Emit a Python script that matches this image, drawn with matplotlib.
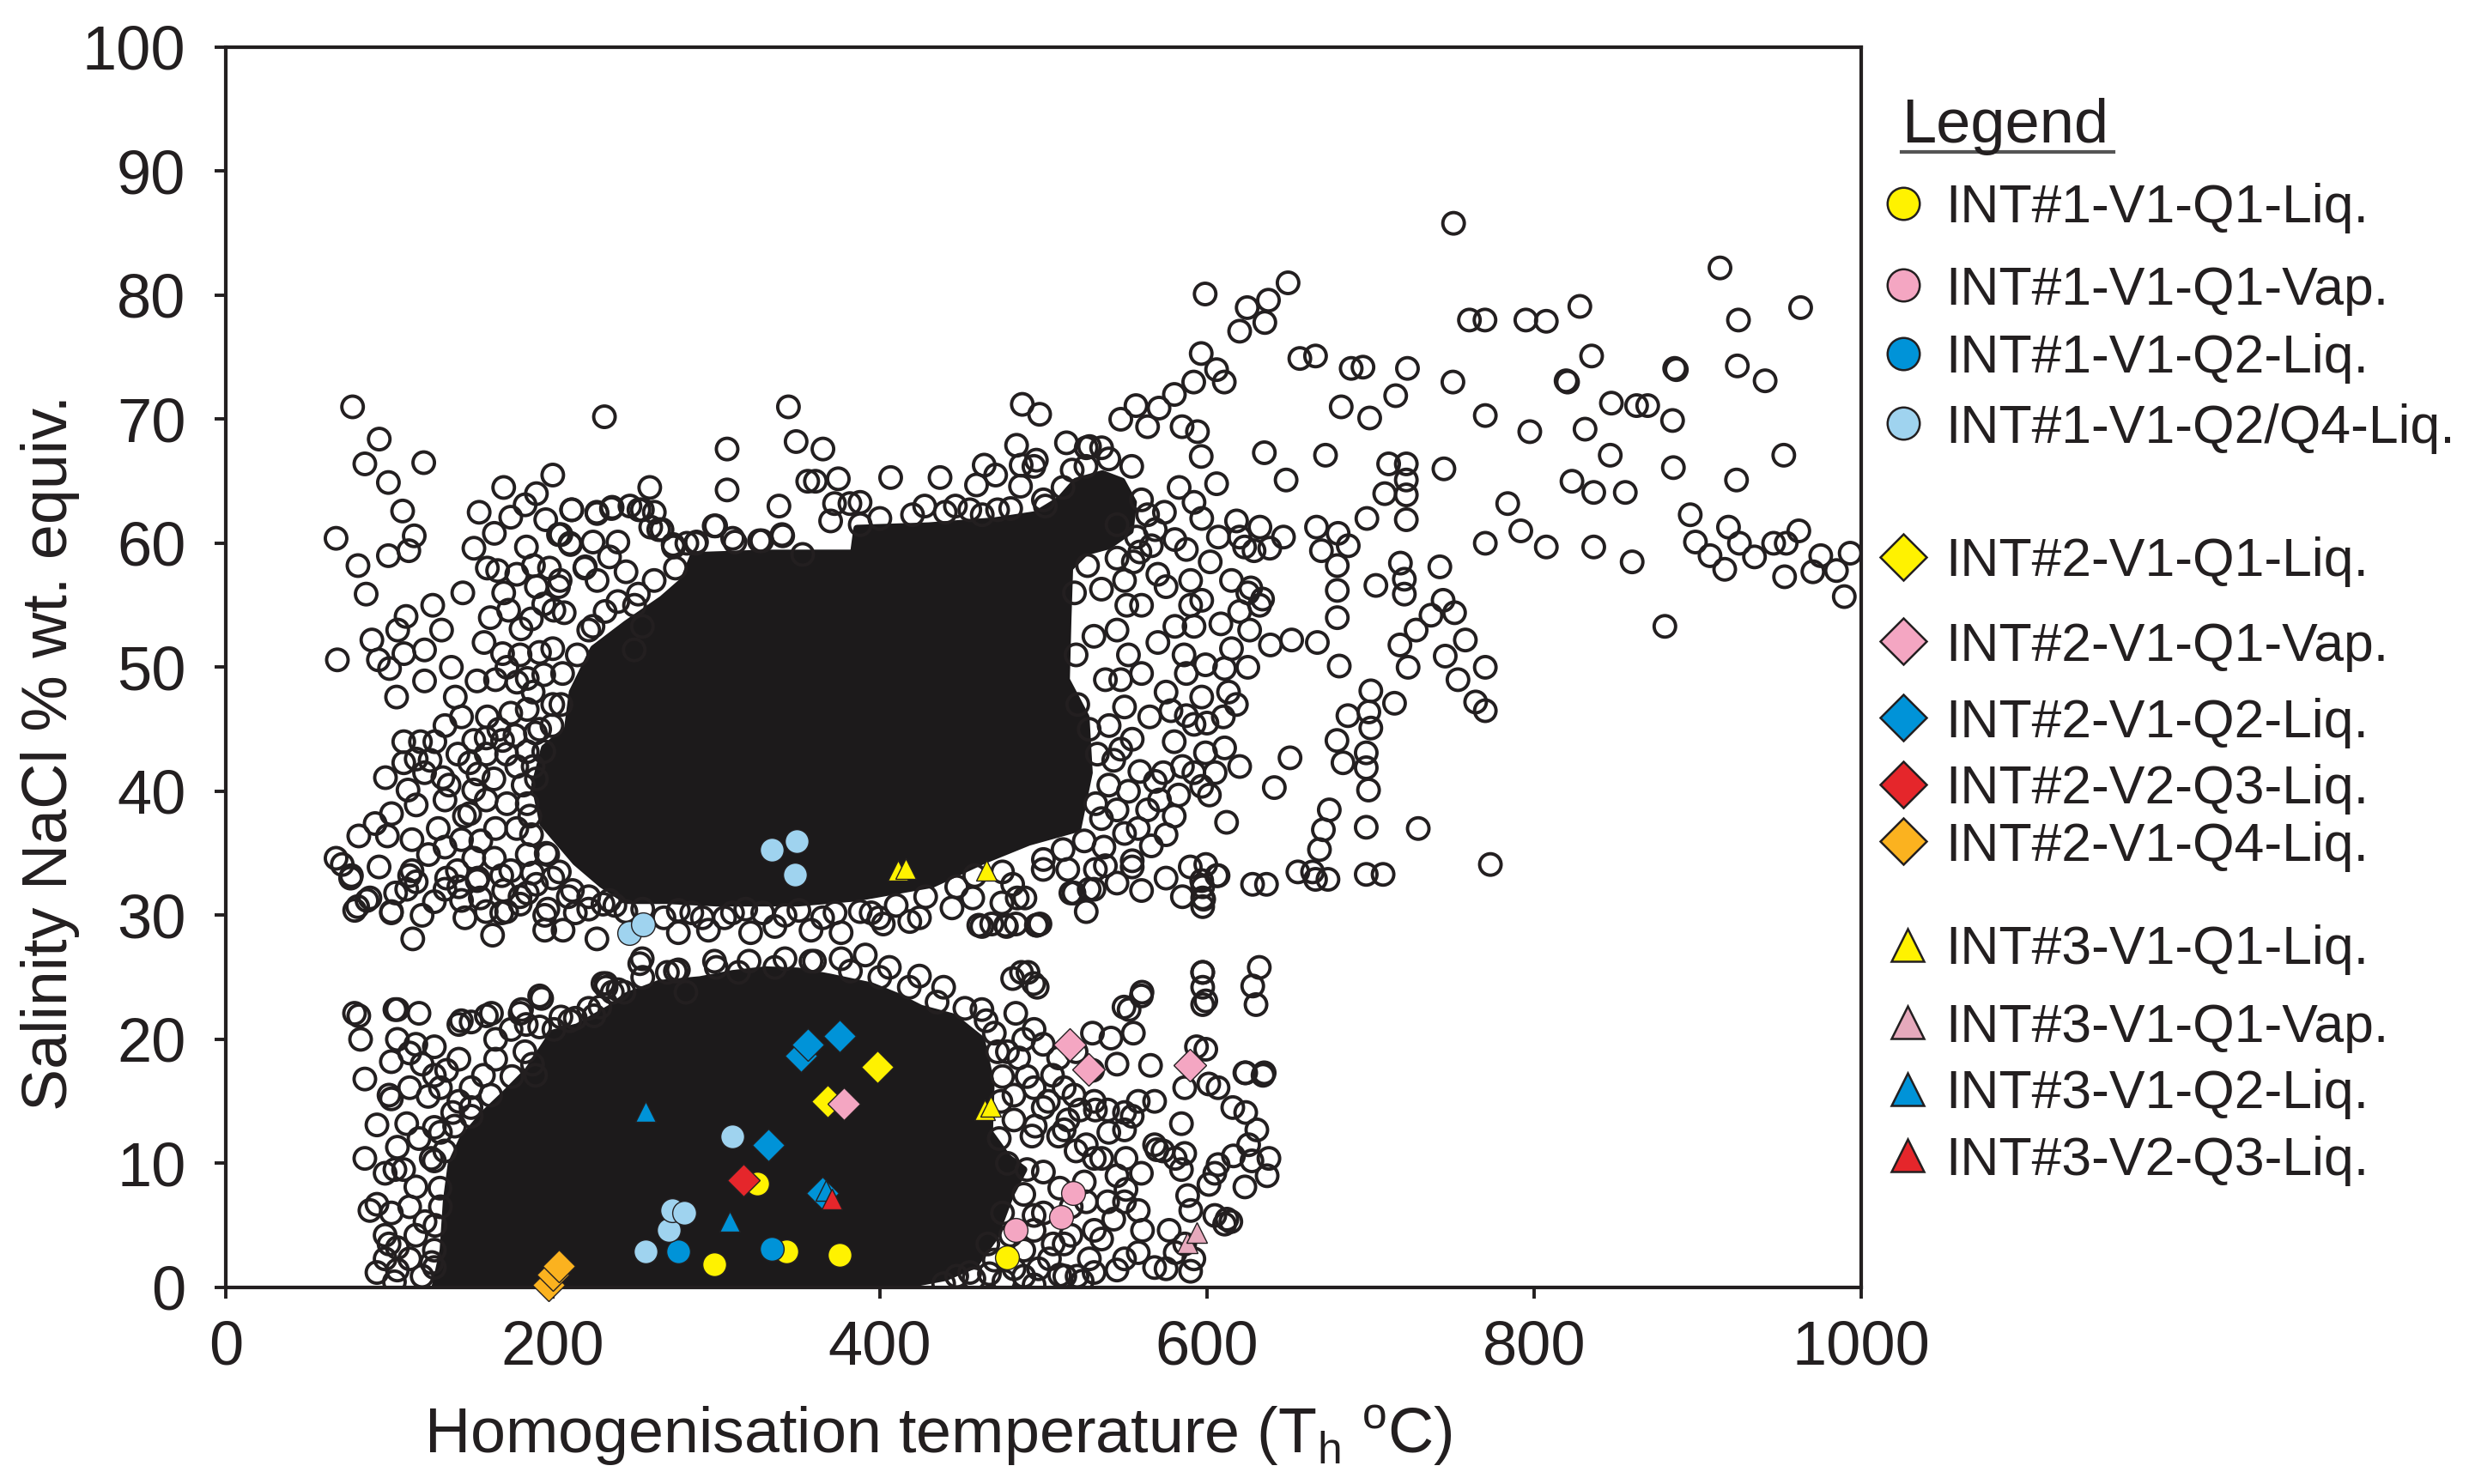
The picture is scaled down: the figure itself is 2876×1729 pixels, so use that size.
import numpy as np
import matplotlib.pyplot as plt
from matplotlib.lines import Line2D

plt.rcParams['font.family'] = ['Liberation Sans', 'DejaVu Sans']
plt.rcParams['mathtext.fontset'] = 'custom'
plt.rcParams['mathtext.rm'] = 'Liberation Sans'

INK = '#231f20'

# ---- dense (fully overlapping) clouds, traced as outlines: (Th, salinity)
upper_cloud = [(189, 40.5), (195, 43.5), (209, 45), (212, 48), (225, 51.5), (245, 53.5),
               (267, 55.5), (280, 57), (286, 59), (330, 59.2), (384, 59.2), (386, 61.2),
               (430, 61.4), (470, 61.8), (495, 62.3), (510, 63.5), (520, 65), (536, 65.6),
               (548, 65), (555, 63.3), (553, 61), (540, 59.8), (526, 59.3), (516, 58),
               (515, 54), (514, 49), (526, 46), (528, 41.5), (521, 37), (491, 35.9),
               (463, 34.4), (432, 32.5), (385, 31.4), (350, 31.0), (300, 31.0), (270, 31.2),
               (245, 31.2), (230, 32.5), (214, 34.3), (194, 37.4)]
lower_cloud = [(128, 0), (133, 3), (135, 7), (138, 10), (145, 12), (158, 14), (170, 15.5),
               (185, 17.5), (195, 19.5), (200, 20.5), (215, 21), (235, 22.5), (245, 23.5),
               (265, 24.5), (290, 24.8), (310, 25.3), (330, 25.6), (350, 25.5), (370, 25),
               (395, 24.3), (410, 23.5), (425, 22.5), (445, 21.8), (462, 20), (468, 16.5),
               (467, 12.5), (478, 10.5), (488, 9.5), (480, 7.5), (470, 4), (458, 1.8),
               (440, 0.8), (420, 0.3), (395, 0)]

# ---- individual open circles, by area of the plot
upper_left = [(77.6, 71.0), (93.9, 68.4), (85.1, 66.4), (121.1, 66.5), (99.5, 64.9), (108.2, 62.6),
              (67.5, 60.4), (115.3, 60.6), (112, 59.4), (99.5, 59.0), (80.9, 58.2), (85.9, 55.9),
              (126.6, 55.0), (110.3, 54.1), (105.2, 53.0), (89.4, 52.2), (121.6, 51.4), (109, 51.1),
              (93.4, 50.6), (100.2, 49.9), (68.3, 50.6), (121.6, 48.9), (104.5, 47.6),
              (183.1, 63.1), (211.5, 62.7), (174.3, 62.1), (195.7, 61.9), (164.3, 60.8), (151.8, 59.6),
              (183.9, 59.7), (205, 60.7), (210.8, 59.9), (227.1, 62.4), (235.9, 62.8), (247.2, 63.0),
              (254.8, 62.7), (264.8, 61.1), (273.6, 59.9), (287.4, 60.0), (298.7, 61.4), (310, 60.4),
              (326.4, 60.2), (340.2, 60.7), (352.8, 59.1),
              (166.3, 57.8), (188.2, 58.2), (204.5, 57.0), (219.6, 58.0), (227.1, 57.0), (161.8, 54.0),
              (173, 54.6), (180.6, 53.1), (186.9, 53.9), (194.5, 55.1), (200.7, 54.6), (169.3, 51.1),
              (191.9, 51.2), (207, 54.4), (178.1, 48.8), (184.4, 49.1), (194.5, 49.4), (153.7, 48.9),
              (140.4, 47.6), (144.2, 46.0), (134.1, 45.3), (174.3, 46.3), (184.4, 46.6), (189.4, 44.7),
              (199.5, 45.3), (194.5, 43.2),
              (108.9, 44.0), (119.1, 44.0), (127.9, 44.0), (151.7, 44.1), (159.3, 44.3), (169.3, 44.1),
              (176.9, 44.5), (184.4, 43.2), (108.9, 42.3), (116.5, 42.6), (121.6, 41.5), (149.2, 42.3),
              (154.3, 41.4), (159.3, 43.0), (171.8, 43.0), (97.7, 41.1), (111.5, 40.1), (116.5, 38.9),
              (132.8, 41.1), (136.6, 40.5), (134.1, 39.3), (151.7, 40.1), (159.3, 39.3), (149.2, 38.2),
              (181.9, 40.5), (184.4, 39.0),
              (81.4, 36.4), (98.9, 36.4), (91.4, 37.4), (101.4, 38.2), (67.5, 34.6), (76.4, 33.0),
              (86.4, 31.2), (78.9, 30.4), (113.9, 36.1), (124, 34.9), (113.9, 33.6), (116.5, 32.7),
              (103.9, 31.8), (101.4, 30.3),
              (134.1, 35.5), (144.2, 36.1), (151.7, 34.6), (141.7, 33.6), (154.3, 33.0), (164.3, 34.6),
              (174.3, 33.6), (184.4, 34.9), (196.9, 34.9), (184.4, 31.8), (171.8, 30.3), (159.3, 30.3),
              (144.2, 31.2), (134.1, 32.1), (197, 30.5), (209.5, 31.5), (222, 30.5), (234.6, 31.2),
              (244.7, 30.3),
              (224.6, 60.1), (234.7, 58.9), (244.8, 57.7), (252.3, 55.9), (254.8, 53.3), (249.8, 51.4),
              (239.8, 55.3), (259.9, 61.3), (224.6, 53.3), (239.8, 60.1),
              (160, 58), (170, 56), (178, 57.5), (190, 56.5), (198, 58), (158, 52), (165, 49), (172, 50),
              (180, 51), (188, 48), (200, 51.5), (205, 47), (160, 46), (167, 45), (178, 42), (164, 41),
              (172, 39), (190, 41), (178, 37), (187, 36.5), (165, 37), (156, 36), (170, 32), (180, 31.5),
              (190, 32.5), (200, 33), (146, 38), (142, 43), (130, 37), (125, 42.5), (138, 50), (132, 53),
              (145, 56), (155, 62.5), (170, 64.5), (190, 64), (200, 65.5)]

above_cloud = [(231.6, 70.2), (344.1, 71.0), (306.6, 67.6), (348.8, 68.2), (365.2, 67.6), (306.6, 64.3),
               (355.9, 65.0), (360.6, 65.0), (374.6, 65.2), (338.3, 63.0), (259.3, 64.5), (211.7, 62.7),
               (226.9, 62.5), (236.3, 62.9), (252.7, 62.7), (262.1, 62.5), (203.5, 60.7), (210.5, 60.0),
               (219.9, 58.1), (203.5, 56.5), (266.8, 61.1), (273.8, 59.7), (287.9, 60.1), (299.6, 61.4),
               (311.4, 60.1), (327.8, 60.2), (340.6, 60.6), (372.3, 63.2), (381.7, 63.2), (369.9, 61.8),
               (406.6, 65.3), (387.9, 63.3), (427.4, 63.0), (436.8, 65.3), (446.2, 63.0), (459.1, 64.7),
               (463.8, 66.3), (470.8, 65.5), (472, 62.7), (462.6, 62.3), (483.6, 67.9), (487.1, 71.2),
               (497.7, 70.4), (494.2, 66.2), (486, 64.6), (501.2, 63.0), (514.1, 68.1), (517.6, 65.9),
               (528.2, 67.8), (526.2, 67.7), (535.6, 67.7), (547.3, 70.0), (556.6, 71.1), (563.7, 69.4),
               (570.7, 70.9), (580.1, 72.0), (584.8, 69.4), (594.2, 69.0), (596.5, 67.0), (605.9, 64.8),
               (486.4, 66.3), (495.7, 66.7)]

right_of_cloud = [(598.9, 80.1), (596.5, 75.3), (605.9, 74.0), (610.6, 73.0), (591.9, 73.0), (618.1, 61.8),
                  (623, 59.7), (620, 60.5), (615, 57), (625, 56), (634, 55.5), (620, 54.5), (608.5, 53.5),
                  (596.8, 55.4), (592.1, 53.3), (599.1, 50.2), (610.8, 49.9), (613.2, 48.0), (596.8, 47.6),
                  (592.1, 45.4), (599.1, 43.1), (610.8, 43.5), (587.4, 46.1), (580.4, 53.3), (587.4, 49.5),
                  (596.8, 40.4), (601.5, 39.7), (589.8, 33.9), (596.8, 32.8), (598, 31.3), (606, 33.2),
                  (573.3, 41.5), (571, 39.3), (582.7, 39.7),
                  (537.9, 49.0), (547.3, 49.0), (549.6, 46.8), (540.2, 45.3), (547.3, 43.4), (554.3, 44.2),
                  (559, 41.6), (568.4, 40.8), (563.7, 38.5), (535.5, 37.8), (549.6, 36.6), (554.3, 34.4),
                  (537.9, 34.0), (530.9, 32.1), (516.8, 31.8), (526.2, 30.3), (495.7, 29.2), (476.9, 29.2),
                  (460.5, 29.2), (484, 31.4), (474.6, 31.0), (444.1, 30.6), (418.3, 29.5), (399.5, 29.8),
                  (535.5, 56.3), (530.9, 52.5), (549.6, 57.0), (559, 59.3), (568.4, 61.1), (563.7, 62.3),
                  (580.4, 60.3), (587.4, 59.5), (596.8, 62.0), (592.1, 63.3),
                  (545, 53), (552, 51), (560, 55), (570, 52), (575, 48), (565, 46), (580, 44), (560, 49.5),
                  (590, 57), (575, 56.5), (555, 58.5),
                  (540, 40.5), (545, 38.5), (552, 40), (558, 37), (566, 35.6), (575, 36.5), (580, 38),
                  (585, 42), (592, 41.5), (578, 46.5), (586, 51), (590, 55), (602, 58.5), (607, 60.5),
                  (600, 45.5), (605, 41.5), (610, 46), (615, 51.5), (570, 57.5), (566, 59.8), (574, 62.5),
                  (583, 64.5), (545, 61.5), (551, 55), (543, 42.5), (537, 35.5), (545, 32.6), (560, 32),
                  (575, 33), (585, 31.5), (612, 37.5), (620, 42), (618, 47), (625, 50)]

far_right = [(750.8, 85.8), (913.7, 82.2), (963, 79.0), (649.6, 81.0), (637.6, 79.6), (624.6, 79.0),
             (635.4, 77.8), (620, 77.1), (760.5, 78.0), (770, 78.0), (795, 78.0), (807.5, 77.9),
             (828, 79.1), (925, 78.0), (924.3, 74.3), (941.3, 73.1), (835.2, 75.1), (819.6, 73.1),
             (820.5, 73.0), (886, 74.1), (887, 74.0), (656.8, 74.9), (666.4, 75.1), (688.2, 74.1),
             (695.4, 74.2), (722.6, 74.1), (750.4, 73.0), (715.4, 71.9), (682.1, 71.0), (699.5, 70.1),
             (770.2, 70.3), (797.4, 69.0), (831.2, 69.2), (847.3, 71.3), (862.7, 71.1), (869.5, 71.1),
             (884.7, 69.9), (635.1, 67.3), (672.5, 67.1), (648.4, 65.1), (711.1, 66.4), (721.9, 66.4),
             (721.9, 65.1), (708.7, 64.0), (721.9, 63.9), (744.9, 66.0), (783.9, 63.2), (823.2, 65.0),
             (836.5, 64.1), (855.8, 64.1), (846.6, 67.1), (885.2, 66.1), (923.8, 65.1), (952.7, 67.1),
             (895.5, 62.3), (918.9, 61.3), (961.9, 61.0), (898.7, 60.1), (907.6, 59.0), (925.6, 60.0),
             (934.8, 58.9), (916.6, 57.9), (946.5, 60.0), (954.2, 60.0), (953.2, 57.3), (970.5, 57.7),
             (975.3, 59.0), (984.9, 57.8), (993.3, 59.2), (989.7, 55.7), (880, 53.3), (860, 58.5),
             (836.5, 59.7), (807.5, 59.7), (791.9, 61.0), (770.2, 60.0), (742.4, 58.1), (721.9, 61.9),
             (697.8, 62.0), (686.4, 59.8), (679.7, 56.2), (679.7, 54.0), (703.3, 56.6), (720.7, 57.1),
             (720.7, 55.9), (718.3, 58.4), (744.4, 55.4), (751.4, 54.4), (737, 54.2), (727.9, 53.0),
             (758, 52.2), (718, 51.8), (723, 50.0), (745.7, 50.9), (753.5, 49.0), (770.2, 50.0),
             (764.3, 47.2), (770.2, 46.5), (714.7, 47.1), (700.2, 48.1), (699, 46.4), (700.2, 45.1),
             (686.2, 46.1), (679.5, 44.1), (697.4, 43.1), (697.4, 41.9), (683.2, 42.3), (698.8, 40.1),
             (674.8, 38.5), (671.2, 36.9), (668.8, 35.3), (697.4, 37.1), (729.2, 37.0), (697.4, 33.3),
             (666.4, 32.9), (655.6, 33.5), (773.3, 34.1), (650.8, 42.7), (641.2, 40.3), (627.9, 32.5),
             (680.9, 50.1), (667.5, 52.0), (651.8, 52.2), (638.8, 51.8), (626.1, 53.0), (632.2, 55.0),
             (626.8, 56.4), (679.7, 58.2), (670, 59.4), (680.2, 60.8), (667, 61.3), (646.8, 60.5),
             (632.4, 61.3), (638.4, 59.6), (628.8, 59.4)]

between_clouds = [(76.9, 33.2), (80.7, 30.7), (88.2, 31.4), (101.3, 30.2), (114.4, 28.1), (110.7, 32.1),
                  (120.1, 30.0), (127.6, 31.1), (135.1, 33.0), (146.3, 29.8), (155.7, 31.4), (163.2, 28.4),
                  (168.8, 30.2), (180.1, 30.9), (195.1, 30.0), (195.1, 28.8), (206.3, 28.8), (213.8, 30.2),
                  (227, 28.1), (230.7, 30.9), (253.2, 26.1), (230.7, 24.5), (236.4, 23.8), (270.1, 25.4),
                  (281.4, 23.8), (71.3, 34.1), (93.8, 33.9), (112.5, 33.2), (168.8, 33.2), (187.6, 33.4),
                  (142.6, 32.3), (153.8, 32.8),
                  (276.8, 30.4), (291.5, 29.8), (309.9, 30.2), (328.4, 30.2), (350.5, 30.4), (372.6, 30.2),
                  (394.7, 30.2), (424.2, 29.8), (468.4, 29.3), (483.2, 29.3), (497.9, 29.3), (597.4, 30.7),
                  (276.8, 28.6), (295.2, 28.8), (321, 28.6), (335.8, 29.1), (357.9, 28.8), (376.3, 28.6),
                  (402.1, 29.3), (254.7, 26.5), (276.8, 25.6), (298.9, 26.3), (313.6, 25.4), (335.8, 25.8),
                  (357.9, 26.3), (376.3, 26.5), (391.1, 26.8), (405.8, 25.8), (424.2, 25.1), (439, 24.2),
                  (486.6, 25.4), (494, 24.5), (560.3, 23.8), (549.3, 22.6), (597.4, 25.4), (597.4, 24.2),
                  (597.4, 22.8), (232.6, 24.5), (243.6, 23.8), (628, 24.3), (632, 25.8), (630, 22.8),
                  (554.3, 33.9), (599.3, 34.1), (606.8, 33.2), (597.4, 32.3), (597.4, 31.4), (636.4, 32.5),
                  (664.6, 33.5), (674, 32.9), (707.7, 33.3), (481.2, 32.5), (488.7, 31.4), (456.8, 31.4),
                  (462.4, 29.1), (477.4, 29.1), (496.2, 29.2), (528, 32.1), (518.7, 31.8), (514.9, 33.7),
                  (531.8, 33.7), (499.9, 33.7), (481.2, 24.9), (490.6, 25.4), (496.2, 24.2),
                  (597.4, 25.4), (599.3, 23.1), (552.4, 22.4), (559.9, 23.5)]

lower_left = [(78.8, 22.1), (82.5, 20.0), (105, 22.4), (118.2, 22.1), (105, 20.0), (116.3, 19.6),
              (127.6, 19.4), (142.6, 21.2), (150.1, 21.4), (159.4, 21.9), (180.1, 22.1), (193.2, 23.3),
              (165.1, 20.0), (174.5, 20.8), (183.8, 21.2), (200.7, 20.8), (213.8, 21.7), (228.9, 22.6),
              (232.6, 24.2), (187.6, 18.0), (189.5, 17.1), (101.3, 18.2), (112.5, 18.9), (120.1, 18.0),
              (127.6, 17.1), (135.1, 17.5), (142.6, 18.4), (101.3, 15.2), (112.5, 16.1), (123.8, 15.4),
              (131.3, 16.1), (142.6, 15.0), (150.1, 16.1), (157.6, 17.1), (165.1, 18.4), (110.7, 13.2),
              (127.6, 12.9), (138.8, 14.1), (150.1, 13.8), (105, 11.3), (118.2, 12.0), (127.6, 10.2),
              (131.3, 12.5), (97.5, 9.2), (108.8, 9.5), (116.3, 8.1), (125.7, 10.4), (88.2, 6.2),
              (101.3, 6.0), (112.5, 6.5), (121.9, 5.3), (131.3, 6.5), (97.5, 4.2), (105, 3.2),
              (116.3, 4.2), (127.6, 3.0), (97.5, 2.3), (105, 1.4), (112.5, 2.3), (120.1, 0.9),
              (127.6, 1.6), (103.2, 0.45), (81.4, 21.9), (103.5, 22.4), (144.1, 21.5), (162.5, 22.1),
              (180.9, 22.4), (192, 23.5), (210.4, 21.5), (225.2, 21.9), (85.1, 16.8), (99.9, 15.5),
              (92.5, 13.1), (85.1, 10.4), (103.5, 9.5), (92.5, 6.7), (99.9, 3.5), (92.5, 1.2)]

lower_right = [(462.4, 22.4), (483.1, 22.1), (494.3, 20.8), (530, 20.5), (541.3, 20.1), (565.5, 17.9),
               (593.6, 19.4), (599.3, 19.2), (623.7, 17.3), (635, 17.3), (606.8, 16.1), (623.7, 14.1),
               (636.8, 9.0), (627.5, 10.2), (616.2, 10.6), (606.8, 9.9), (601.2, 8.3), (625.5, 11.5),
               (584.4, 13.2), (573.1, 11.0), (569.4, 11.1), (580.6, 10.4), (584.4, 9.5), (588.2, 7.4),
               (590.1, 6.2), (576.9, 4.6), (580.6, 2.8), (592, 2.3), (610.8, 5.1), (614.6, 5.3),
               (554.3, 13.8), (558, 15.0), (539.3, 14.3), (531.8, 14.3), (518.7, 15.5), (522.4, 14.3),
               (509.3, 12.2), (526.2, 11.5), (535.6, 10.4), (550.5, 10.4), (559.9, 9.2), (550.5, 7.9),
               (558, 6.2), (558, 2.8), (543, 5.5), (535.6, 3.9), (528.1, 2.3), (520.6, 0.9), (513.1, 0.9),
               (503.7, 2.3), (494.3, 4.6), (516.8, 4.2), (526.2, 6.9), (539.3, 6.9), (499.9, 14.5),
               (494.3, 16.1), (505.6, 17.1), (509.3, 18.5), (499.9, 19.6), (484.9, 18.5),
               (512.7, 16.1), (531.1, 15.0), (549.6, 14.1), (568, 15.0), (586.4, 16.1), (601.1, 16.4),
               (623.2, 17.3), (634.3, 17.1), (615.8, 14.5), (630.5, 12.7), (637.9, 10.4), (623.2, 8.1),
               (604.8, 9.2), (586.4, 10.8), (568, 11.5), (549.6, 12.7), (531.1, 10.4), (512.7, 12.7),
               (494.3, 5.8), (512.7, 3.5), (531.1, 4.6), (549.6, 6.9), (560.6, 4.6), (549.6, 2.3),
               (568, 1.6), (586.4, 3.5), (604.8, 5.8), (612.2, 5.5), (523.7, 0.5), (494.3, 0.2),
               (475.9, 0.5), (457.5, 0.7), (439, 0.3), (447, 0.9), (467, 1.1), (488, 0.9), (510, 1.0),
               (531, 1.2), (545, 1.4), (575, 1.5), (590, 1.3),
               (470, 20.5), (478, 19), (488, 20), (475, 17), (482, 15.5), (490, 17), (495, 13), (503, 15),
               (515, 13.5), (520, 11), (510, 8), (517, 6.5), (500, 6), (488, 3), (506, 3.5), (497, 1.5),
               (482, 1.5), (525, 8.5), (545, 9), (540, 12.5), (530, 17.5), (520, 19), (545, 18),
               (555, 20.5)]

# circles packed along the rims of the two dense clouds
cloud_rims = [(186, 38), (188, 42), (192, 45), (200, 47), (206, 49.5), (215, 51), (222, 53), (232, 54.5),
              (250, 55), (262, 57), (275, 58), (282, 60), (196, 35), (204, 33.5), (212, 32), (222, 31.5),
              (238, 30.8), (255, 30.5), (268, 29.8), (285, 30.2), (305, 29.8), (318, 30.5), (342, 30),
              (365, 29.8), (388, 30.3), (410, 30.8), (428, 31.5), (447, 32.3), (458, 33.2), (475, 33.5),
              (500, 34.5), (512, 35.3), (525, 36), (532, 39), (533, 43), (528, 45), (521, 47), (520, 51),
              (519, 56), (527, 58.2), (545, 58.8), (557, 60.5), (560, 63.5), (554, 66.2), (540, 66.8),
              (526, 66.2), (512, 64.5), (500, 63.5), (480, 62.8), (455, 62.7), (440, 62.5), (420, 62.3),
              (400, 62.0), (388, 61.5),
              (126, 2), (128, 5), (131, 8), (134, 11), (140, 13), (150, 14.5), (162, 15.5), (175, 17),
              (183, 19), (192, 21), (205, 21.8), (222, 22.5), (240, 24), (255, 25), (275, 25.5),
              (300, 25.8), (320, 26.3), (342, 26.5), (360, 26.3), (382, 25.5), (400, 25), (418, 24.2),
              (435, 23), (452, 22.5), (465, 21.5), (472, 19), (474, 15), (473, 12), (478, 10), (490, 9.5),
              (475, 6), (466, 3.5), (455, 1.2), (470, 2.2), (480, 4.2), (488, 7.5), (500, 9.3),
              (493, 12.2), (482, 13.5)]

# ---- coloured inclusion groups
int1_q1_liq_T, int1_q1_liq_S = [298.8, 343, 375.5, 477.5, 325], [1.85, 2.88, 2.65, 2.4, 8.4]
int1_q1_vap_T, int1_q1_vap_S = [518, 510.8, 483.2], [7.6, 5.7, 4.6]
int1_q2_liq_T, int1_q2_liq_S = [276.8, 333.8], [2.9, 3.1]
int1_q24_liq_T = [247, 255, 334, 349, 348, 256.5, 271, 273, 280.5, 310]
int1_q24_liq_S = [28.6, 29.3, 35.3, 36.0, 33.3, 2.9, 4.6, 6.2, 6.0, 12.2]
int2_q1_liq_T, int2_q1_liq_S = [398.3, 368.2], [17.8, 15.0]
int2_q1_vap_T, int2_q1_vap_S = [378.2, 516.3, 527.4, 589.3], [14.8, 19.6, 17.6, 17.9]
int2_q2_liq_T, int2_q2_liq_S = [352, 356, 375.5, 332, 365], [18.7, 19.6, 20.3, 11.5, 7.6]
int2_q3_liq_T, int2_q3_liq_S = [316.6], [8.65]
int2_q4_liq_T, int2_q4_liq_S = [197.5, 200, 204], [0.2, 1.0, 1.7]
int3_q1_liq_T, int3_q1_liq_S = [411, 416, 465, 464, 468], [33.6, 33.8, 33.6, 14.3, 14.6]
int3_q1_vap_T, int3_q1_vap_S = [588, 593.7], [3.6, 4.4]
int3_q2_liq_T, int3_q2_liq_S = [256.5, 308, 367], [14.2, 5.3, 7.8]
int3_q3_liq_T, int3_q3_liq_S = [370.8], [7.15]

YEL, PNK, BLU, LBL, RED, ORG = '#fff200', '#f4a6c2', '#0093d8', '#9fd3ef', '#e5262b', '#fbb21f'
PNK3 = '#e6a9bc'

groups = [
    ('INT#1-V1-Q1-Liq.', 'o', YEL, int1_q1_liq_T, int1_q1_liq_S),
    ('INT#1-V1-Q1-Vap.', 'o', PNK, int1_q1_vap_T, int1_q1_vap_S),
    ('INT#1-V1-Q2-Liq.', 'o', BLU, int1_q2_liq_T, int1_q2_liq_S),
    ('INT#1-V1-Q2/Q4-Liq.', 'o', LBL, int1_q24_liq_T, int1_q24_liq_S),
    ('INT#2-V1-Q1-Liq.', 'D', YEL, int2_q1_liq_T, int2_q1_liq_S),
    ('INT#2-V1-Q1-Vap.', 'D', PNK, int2_q1_vap_T, int2_q1_vap_S),
    ('INT#2-V1-Q2-Liq.', 'D', BLU, int2_q2_liq_T, int2_q2_liq_S),
    ('INT#2-V2-Q3-Liq.', 'D', RED, int2_q3_liq_T, int2_q3_liq_S),
    ('INT#2-V1-Q4-Liq.', 'D', ORG, int2_q4_liq_T, int2_q4_liq_S),
    ('INT#3-V1-Q1-Liq.', '^', YEL, int3_q1_liq_T, int3_q1_liq_S),
    ('INT#3-V1-Q1-Vap.', '^', PNK3, int3_q1_vap_T, int3_q1_vap_S),
    ('INT#3-V1-Q2-Liq.', '^', BLU, int3_q2_liq_T, int3_q2_liq_S),
    ('INT#3-V2-Q3-Liq.', '^', RED, int3_q3_liq_T, int3_q3_liq_S),
]

fig = plt.figure(figsize=(14.38, 8.645), dpi=200)
ax = fig.add_axes([0.0914, 0.1325, 0.6624, 0.8357])

# dense clouds
for poly in (upper_cloud, lower_cloud):
    p = np.array(poly)
    ax.fill(p[:, 0], p[:, 1], color='#1c1a1b', lw=3, joinstyle='round', zorder=2)

# open circles
open_pts = np.array(upper_left + above_cloud + right_of_cloud + far_right
                    + between_clouds + lower_left + lower_right + cloud_rims)
ax.scatter(open_pts[:, 0], open_pts[:, 1], s=9.0 ** 2, facecolors='none',
           edgecolors=INK, linewidths=1.4, zorder=3)

# coloured symbols
plot_size = {'o': 10, 'D': 9.5, '^': 8.5}
for label, mk, col, xs, ys in groups:
    ax.plot(xs, ys, ls='none', marker=mk, ms=plot_size[mk], mfc=col, mec=INK,
            mew=0.5, zorder=5, clip_on=False)

ax.set_xlim(0, 1000)
ax.set_ylim(0, 100)
ax.set_xticks(range(0, 1001, 200))
ax.set_yticks(range(0, 101, 10))
for sp in ax.spines.values():
    sp.set_linewidth(1.5)
    sp.set_color(INK)
ax.tick_params(direction='out', length=4.7, width=1.4, color=INK,
               labelsize=26, labelcolor=INK)
ax.tick_params(axis='x', pad=9)
ax.tick_params(axis='y', pad=12)

fig.text(0.380, 0.0208, r'Homogenisation temperature (T$_\mathregular{h}$ $^\mathregular{o}$C)',
         ha='center', va='baseline', fontsize=26.5, color=INK)
fig.text(0.0202, 0.4928, 'Salinity NaCl % wt. equiv.', rotation=90,
         ha='center', va='center', fontsize=26.5, color=INK)

# legend, drawn by hand to keep the grouped spacing
fig.text(0.7702, 0.904, 'Legend', ha='left', va='baseline', fontsize=26, color=INK)
fig.add_artist(Line2D([0.7700, 0.8560], [0.8975, 0.8975], transform=fig.transFigure,
                      color='#555555', lw=1.5))
leg_y = [0.8630, 0.8077, 0.7619, 0.7146, 0.6249, 0.5677, 0.5163, 0.4715, 0.4331,
         0.3634, 0.3111, 0.2663, 0.2215]
leg_size = {'o': 13.5, 'D': 13.5, '^': 14}
for (label, mk, col, xs, ys), y in zip(groups, leg_y):
    x = 0.7726 if mk == '^' else 0.7709
    fig.add_artist(Line2D([x], [y], transform=fig.transFigure, ls='none', marker=mk,
                          ms=leg_size[mk], mfc=col, mec=INK, mew=0.9))
    fig.text(0.7879, y - 0.013, label, ha='left', va='baseline', fontsize=22.5, color=INK)

fig.savefig('out.png', dpi=200, facecolor='white')
